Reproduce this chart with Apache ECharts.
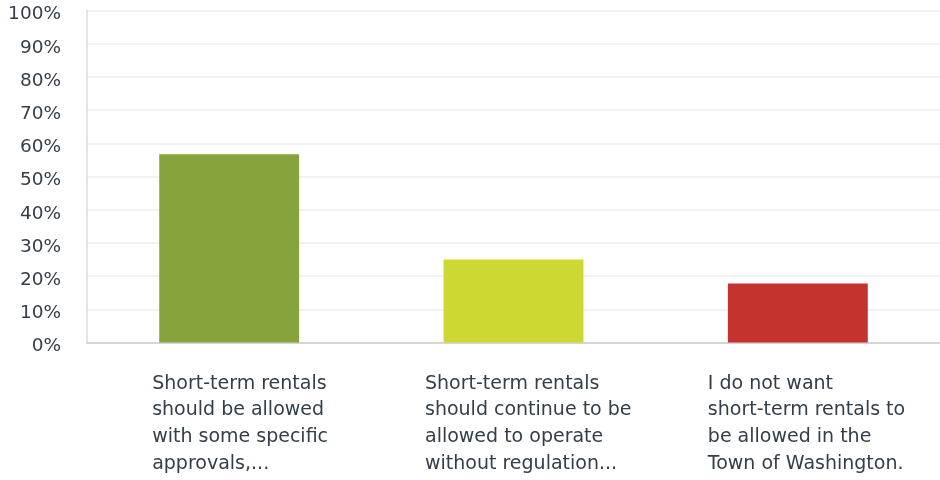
<!DOCTYPE html>
<html>
<head>
<meta charset="utf-8">
<script src="https://cdn.jsdelivr.net/npm/echarts@6/dist/echarts.min.js"></script>
<style>
  html, body { margin: 0; padding: 0; background: #fff; }
  #chart { width: 940px; height: 480px; }
</style>
</head>
<body>
<div id="chart"></div>
<script>
// Survey answers (line breaks as they wrap under each bar)
const categories = [
  'Short-term rentals\nshould be allowed\nwith some specific\napprovals,...',
  'Short-term rentals\nshould continue to be\nallowed to operate\nwithout regulation...',
  'I do not want\nshort-term rentals to\nbe allowed in the\nTown of Washington.'
];
// Share of respondents, percent
const values = [56.7, 25.0, 17.8];
const barColors = ['#87a33b', '#cdd932', '#c5332d'];
// Label block widths used to place the left-aligned answer text
const labelWidths = [154, 177, 180];

const textColor = '#333e48';
const fontFamily = '"DejaVu Sans", sans-serif';

const chart = echarts.init(document.getElementById('chart'), null, { renderer: 'canvas' });

chart.setOption({
  animation: false,
  grid: { left: 87, right: 0, top: 10.5, bottom: 137.5, containLabel: false },
  xAxis: {
    type: 'category',
    data: categories.map((c, i) => ({
      value: c,
      textStyle: { width: labelWidths[i] }
    })),
    axisLine: { show: true, lineStyle: { color: '#cbcbcb', width: 1.5 } },
    axisTick: { show: false },
    axisLabel: {
      interval: 0,
      margin: 28,
      align: 'center',
      verticalAlign: 'top',
      color: textColor,
      fontFamily: fontFamily,
      fontSize: 19,
      lineHeight: 26.7,
      overflow: 'none',
      formatter: function (v) {
        return v.split('\n').map(l => '{t|' + l + '}').join('\n');
      },
      rich: {
        t: { align: 'left', color: textColor, fontFamily: fontFamily, fontSize: 19, lineHeight: 26.7 }
      }
    }
  },
  yAxis: {
    type: 'value',
    min: 0,
    max: 100,
    interval: 10,
    axisLine: { show: true, lineStyle: { color: '#dcdcdc', width: 1.5 } },
    axisTick: { show: false },
    splitLine: { show: true, lineStyle: { color: '#ececec', width: 1.5 } },
    axisLabel: {
      margin: 26,
      color: textColor,
      fontFamily: fontFamily,
      fontSize: 18.5,
      verticalAlign: 'top',
      lineHeight: 20,
      padding: [-6, 0, 0, 0],
      formatter: '{value}%'
    }
  },
  series: [{
    type: 'bar',
    data: values.map((v, i) => ({ value: v, itemStyle: { color: barColors[i] } })),
    barWidth: '49.2%',
    silent: true
  }]
});
</script>
</body>
</html>
